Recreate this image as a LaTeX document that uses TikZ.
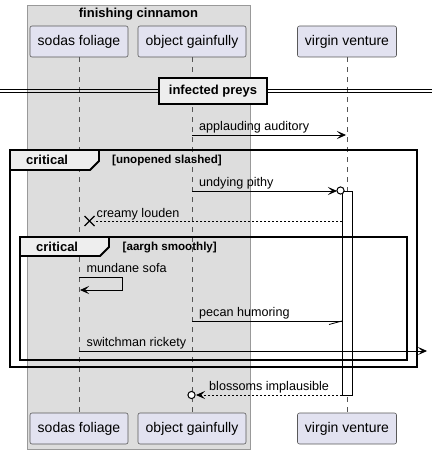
\documentclass[tikz,border=0pt]{standalone}
\usepackage{fontspec}
\setmainfont{Liberation Sans}
\usetikzlibrary{arrows.meta,calc}
\definecolor{partfill}{HTML}{E2E2F0}
\definecolor{grpfill}{HTML}{DDDDDD}
\definecolor{tabfill}{HTML}{EEEEEE}
\definecolor{lifegray}{HTML}{555555}
\begin{document}
\begin{tikzpicture}[x=1pt,y=-1pt,
  part/.style={draw=black!65, fill=partfill, rounded corners=2pt, line width=0.6pt,
    minimum height=31pt, inner sep=0pt, font=\fontsize{14}{16}\selectfont},
  life/.style={draw=lifegray, dash pattern=on 5pt off 5pt, line width=0.6pt},
  msg/.style={line width=0.8pt, -{Stealth[length=9pt,width=8pt,inset=4pt]}},
  retmsg/.style={line width=0.8pt, dash pattern=on 2pt off 2pt},
  lbl/.style={anchor=base west, inner sep=0pt, font=\fontsize{12.6}{15}\selectfont},
  frame/.style={line width=1.8pt},
  tab/.style={line width=1.8pt, fill=tabfill},
  boldlbl/.style={anchor=base west, inner sep=0pt, font=\fontsize{13}{15}\selectfont\bfseries},
  condlbl/.style={anchor=base west, inner sep=0pt, font=\fontsize{11.6}{13}\selectfont\bfseries},
  openc/.style={line width=1pt, fill=white}
]
\useasboundingbox (0,0) rectangle (432,454);
% group box
\draw[fill=grpfill, draw=black!40, line width=0.6pt] (27,5) rectangle (250,449);
\node[anchor=base, inner sep=0pt, font=\fontsize{13}{15}\selectfont\bfseries] (gtitle) at (138.5,18) {finishing cinnamon};
% participants
\node[part, minimum width=98pt] (sA) at (79,41.5) {sodas foliage};
\node[part, minimum width=108pt] (sB) at (192,41.5) {object gainfully};
\node[part, minimum width=99pt] (sC) at (347,41.5) {virgin venture};
\node[part, minimum width=98pt] (eA) at (79,428.5) {sodas foliage};
\node[part, minimum width=108pt] (eB) at (192,428.5) {object gainfully};
\node[part, minimum width=99pt] (eC) at (347,428.5) {virgin venture};
\draw[life] (sA) -- (eA);
\draw[life] (sB) -- (eB);
\draw[life] (sC) -- (eC);
% divider
\draw[line width=1pt] (0,89.5) -- (432,89.5);
\draw[line width=1pt] (0,92.5) -- (432,92.5);
\node[draw=black, line width=2pt, fill=tabfill, minimum width=108pt, minimum height=26pt, inner sep=0pt,
  font=\fontsize{13}{15}\selectfont\bfseries] (div) at (213,91) {infected preys};
% activation bar
\draw[fill=white, line width=0.8pt] (342,191) rectangle (352,395);
% message endpoints
\coordinate (m1a) at (192,135); \coordinate (m1b) at (346,135);
\coordinate (m2a) at (192,191); \coordinate (m2b) at (337,191);
\coordinate (m2c) at (340.5,190.5);
\coordinate (m3a) at (342,221); \coordinate (m3b) at (94,221);
\coordinate (x3) at (89.5,221);
\coordinate (m4a) at (79,277); \coordinate (m4b) at (122,277);
\coordinate (m4c) at (122,290); \coordinate (m4d) at (80,290);
\coordinate (m5a) at (192,321); \coordinate (m5b) at (342,321);
\coordinate (m5h) at (329,324.5);
\coordinate (m6a) at (79,351); \coordinate (m6b) at (427,351);
\coordinate (m7a) at (342,395); \coordinate (m7b) at (196,395);
\coordinate (m7c) at (191.5,395);
% frames
\draw[frame] (10,150) rectangle (417,367);
\draw[tab] (10,150) -- (99,150) -- (99,161) -- (90,170) -- (10,170) -- cycle;
\node[boldlbl] (f1t) at (26,165) {critical};
\node[condlbl] (f1c) at (112,164) {[unopened slashed]};
\draw[frame] (20,237) rectangle (407,360);
\draw[tab] (20,237) -- (109,237) -- (109,247) -- (100,256) -- (20,256) -- cycle;
\node[boldlbl] (f2t) at (36,251) {critical};
\node[condlbl] (f2c) at (122.5,250.5) {[aargh smoothly]};
% messages
\draw[msg] (m1a) -- (m1b);
\node[lbl] (l1) at (199,130.5) {applauding auditory};
\draw[msg] (m2a) -- (m2b);
\draw[openc] (m2c) circle (3.6pt);
\node[lbl] (l2) at (199,186.5) {undying pithy};
\draw[retmsg] (m3a) -- (m3b);
\draw[line width=1.3pt] ($(x3)+(-5,-5)$) -- ($(x3)+(5,5)$);
\draw[line width=1.3pt] ($(x3)+(-5,5)$) -- ($(x3)+(5,-5)$);
\node[lbl] (l3) at (96.5,217) {creamy louden};
\draw[msg] (m4a) -- (m4b) -- (m4c) -- (m4d);
\node[lbl] (l4) at (86.5,272.5) {mundane sofa};
\draw[line width=0.8pt] (m5a) -- (m5b);
\draw[line width=0.8pt] (m5h) -- (m5b);
\node[lbl] (l5) at (199,316.5) {pecan humoring};
\draw[msg] (m6a) -- (m6b);
\node[lbl] (l6) at (86.5,346.5) {switchman rickety};
\draw[retmsg, -{Stealth[length=9pt,width=8pt,inset=4pt]}] (m7a) -- (m7b);
\draw[openc] (m7c) circle (3.6pt);
\node[lbl] (l7) at (209,390.5) {blossoms implausible};
\end{tikzpicture}
\end{document}
